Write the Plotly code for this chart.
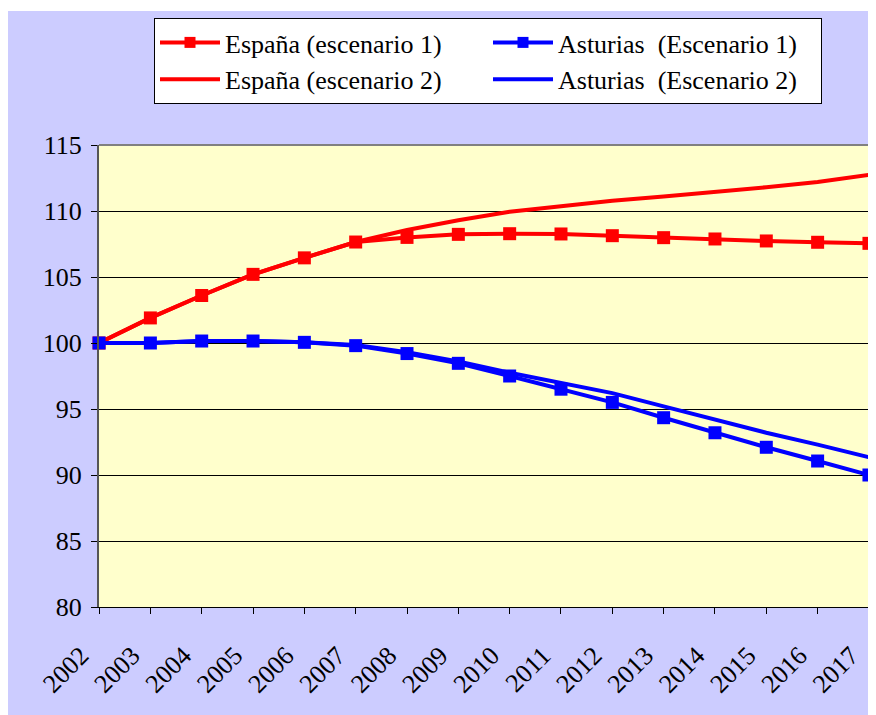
import plotly.graph_objects as go

years = list(range(2002, 2018))
espana_e1 = [100.0, 101.9, 103.6, 105.2, 106.45, 107.65, 108.0, 108.23, 108.28, 108.26, 108.13, 107.98, 107.88, 107.73, 107.63, 107.55]
espana_e2 = [100.0, 101.9, 103.6, 105.2, 106.45, 107.65, 108.56, 109.3, 109.95, 110.38, 110.78, 111.1, 111.42, 111.8, 112.2, 112.73]
asturias_e1 = [100.0, 100.0, 100.15, 100.15, 100.05, 99.8, 99.2, 98.46, 97.5, 96.5, 95.5, 94.34, 93.2, 92.1, 91.06, 90.0]
asturias_e2 = [100.0, 100.0, 100.15, 100.15, 100.05, 99.85, 99.3, 98.6, 97.75, 97.0, 96.2, 95.2, 94.2, 93.2, 92.3, 91.35]

names = ["España (escenario 1)", "Asturias\u00a0 (Escenario 1)",
         "España (escenario 2)", "Asturias\u00a0 (Escenario 2)"]
RED = "#FF0000"
BLUE = "#0000FF"
FONT = "Liberation Serif, Times New Roman, serif"

fig = go.Figure()
fig.add_trace(go.Scatter(x=years, y=espana_e2, name=names[2], mode="lines", cliponaxis=False,
                         line=dict(color=RED, width=4), showlegend=False))
fig.add_trace(go.Scatter(x=years, y=asturias_e2, name=names[3], mode="lines", cliponaxis=False,
                         line=dict(color=BLUE, width=4), showlegend=False))
fig.add_trace(go.Scatter(x=years, y=espana_e1, name=names[0], mode="lines+markers", cliponaxis=False,
                         line=dict(color=RED, width=4),
                         marker=dict(symbol="square", size=13, color=RED), showlegend=False))
fig.add_trace(go.Scatter(x=years, y=asturias_e1, name=names[1], mode="lines+markers", cliponaxis=False,
                         line=dict(color=BLUE, width=4),
                         marker=dict(symbol="square", size=13, color=BLUE), showlegend=False))

# legend entries (in row order)
leg = [(names[0], RED, True), (names[1], BLUE, True), (names[2], RED, False), (names[3], BLUE, False)]
for n, c, mk in leg:
    fig.add_trace(go.Scatter(x=[None], y=[None], name=n,
                             mode="lines+markers" if mk else "lines",
                             line=dict(color=c, width=4),
                             marker=dict(symbol="square", size=11, color=c)))

# page has an 8px body margin: work in reference coordinates shifted by OFF
OFF = 8
W, H = 876 - OFF, 715 - OFF
L, R, T, B = 99 - OFF, 7, 145 - OFF, 108
pw, ph = W - L - R, H - T - B

def px(xp):
    return (xp - OFF - L) / pw

def py(yp):
    return (H - B - (yp - OFF)) / ph

# white strip at the top of the picture
fig.add_shape(type="rect", xref="paper", yref="paper",
              x0=px(-5), x1=px(900), y0=py(11), y1=py(-5),
              fillcolor="white", line=dict(width=0), layer="above")

fig.update_layout(
    width=W, height=H,
    margin=dict(l=L, r=R, t=T, b=B),
    paper_bgcolor="#CCCCFF",
    plot_bgcolor="#FFFFCC",
    font=dict(family=FONT, size=26, color="black"),
    legend=dict(orientation="h", x=px(154), y=py(18), xanchor="left", yanchor="top",
                bgcolor="white", bordercolor="black", borderwidth=1,
                entrywidth=258, itemwidth=60, font=dict(size=26, family=FONT),
                traceorder="normal"),
    xaxis=dict(range=[2001.999, 2017.001], tickmode="array", tickvals=years,
               ticktext=[str(y) for y in years], tickangle=-45,
               ticks="outside", ticklen=6, tickcolor="black",
               ticklabelstandoff=16, ticklabelshift=-18,
               showgrid=False, zeroline=False, ticklabeloverflow="allow",
               showline=True, linecolor="black", linewidth=1, mirror=False,
               tickfont=dict(size=26, family=FONT)),
    yaxis=dict(range=[80, 115], tickmode="array", tickvals=[80, 85, 90, 95, 100, 105, 110, 115],
               ticks="outside", ticklen=6, tickcolor="black", ticklabelstandoff=4,
               showgrid=True, gridcolor="black", gridwidth=1, zeroline=False,
               showline=True, linecolor="#555555", linewidth=2, mirror=False,
               tickfont=dict(size=26, family=FONT)),
)
# plot-area border (top and right)
fig.add_shape(type="line", xref="paper", yref="paper", x0=0, x1=1, y0=1, y1=1,
              line=dict(color="#808080", width=2))
fig.add_shape(type="line", xref="paper", yref="paper", x0=1, x1=1, y0=0, y1=1,
              line=dict(color="#808080", width=2))

fig.write_html("out.html")
